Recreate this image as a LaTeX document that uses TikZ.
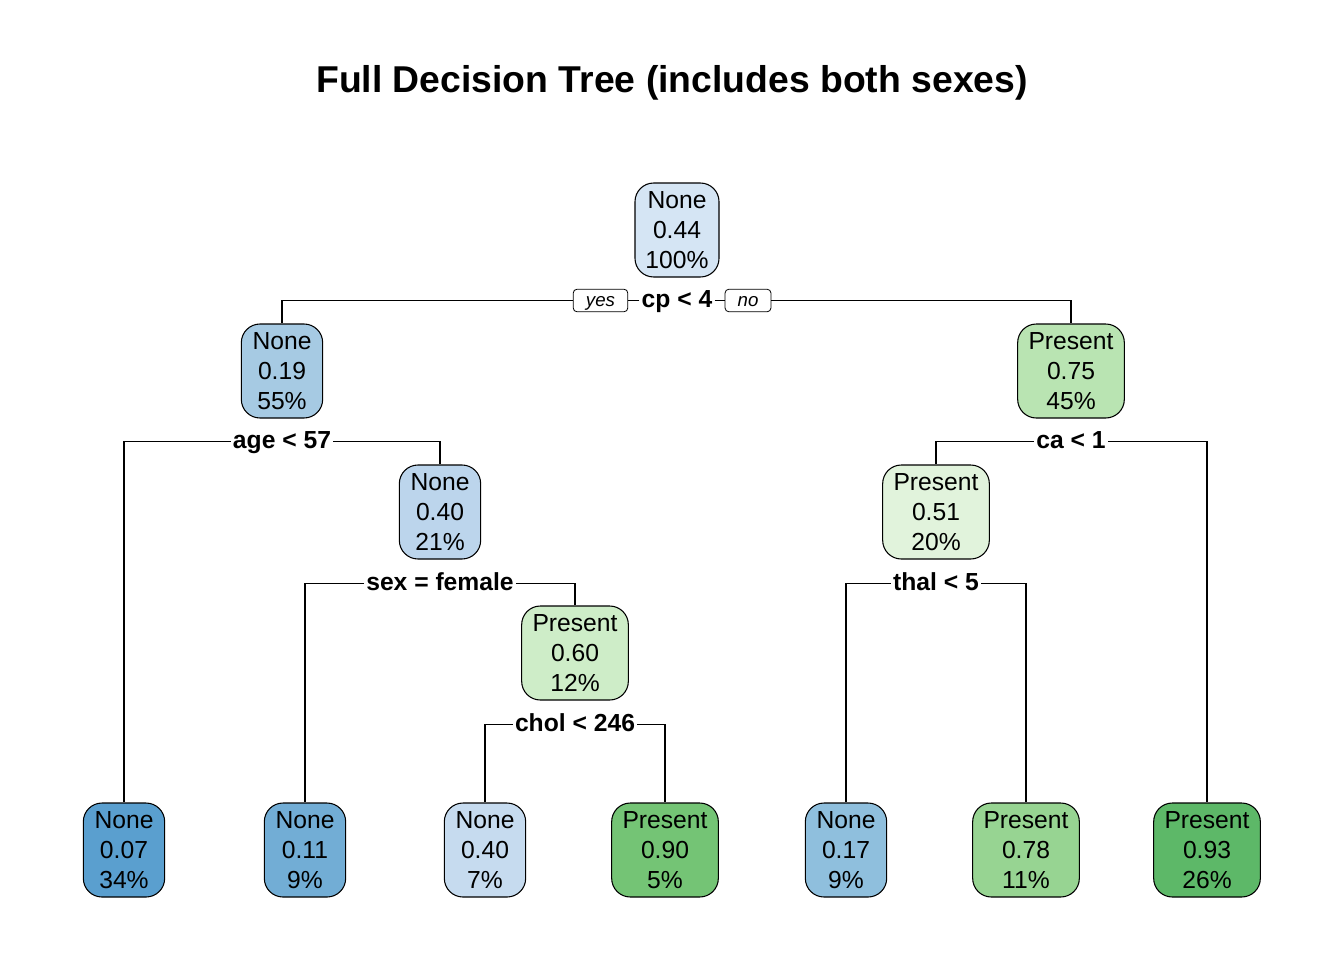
\documentclass[tikz,border=0pt]{standalone}
\usepackage{fontspec}
\setmainfont{Liberation Sans}
\definecolor{cRoot}{HTML}{D5E5F4}
\definecolor{cA}{HTML}{A6CAE3}
\definecolor{cB}{HTML}{BCD5EC}
\definecolor{cC}{HTML}{CEEDC8}
\definecolor{cD}{HTML}{B9E4B2}
\definecolor{cE}{HTML}{E1F3DC}
\definecolor{cL1}{HTML}{5A9FCF}
\definecolor{cL2}{HTML}{72ADD5}
\definecolor{cL3}{HTML}{C6DBEF}
\definecolor{cL4}{HTML}{74C475}
\definecolor{cL5}{HTML}{8FBFDD}
\definecolor{cL6}{HTML}{97D492}
\definecolor{cL7}{HTML}{5DB868}
\tikzset{
  tnode/.style={draw=black, line width=0.8pt, rounded corners=14pt, align=center,
    inner sep=0pt, minimum height=70.5pt,
    execute at begin node={\rule{0pt}{16.3pt}},
    font=\fontsize{18.5}{22.5}\selectfont},
  nbox/.style={tnode, minimum width=61pt},
  rbox/.style={tnode, minimum width=63pt},
  pbox/.style={tnode, minimum width=80pt},
  split/.style={font=\fontsize{18.5}{20}\bfseries\selectfont, inner sep=1.5pt,
    text height=13.3pt, text depth=3.3pt},
  yn/.style={draw=black, line width=0.6pt, rounded corners=3pt, font=\fontsize{14}{16}\itshape\selectfont,
    minimum height=17pt, inner sep=0pt, text height=10pt, text depth=1pt},
  edge/.style={line width=0.8pt}
}
\begin{document}
\begin{tikzpicture}[x=0.75pt, y=-0.75pt]
\useasboundingbox (0,0) rectangle (1344,960);
\fill[white] (0,0) rectangle (1344,960);
\node[font=\fontsize{28}{32}\bfseries\selectfont] (title) at (672,83) {Full Decision Tree (includes both sexes)};

\node[rbox, fill=cRoot] (n1) at (677,230) {None\\0.44\\100\%};
\node[nbox, fill=cA] (n2) at (282,371) {None\\0.19\\55\%};
\node[pbox, fill=cD] (n3) at (1071,371) {Present\\0.75\\45\%};
\node[nbox, fill=cB] (n4) at (440,512) {None\\0.40\\21\%};
\node[pbox, fill=cE] (n5) at (936,512) {Present\\0.51\\20\%};
\node[pbox, fill=cC] (n6) at (575,653) {Present\\0.60\\12\%};

\node[nbox, fill=cL1] (l1) at (124,850) {None\\0.07\\34\%};
\node[nbox, fill=cL2] (l2) at (305,850) {None\\0.11\\9\%};
\node[nbox, fill=cL3] (l3) at (485,850) {None\\0.40\\7\%};
\node[pbox, fill=cL4] (l4) at (665,850) {Present\\0.90\\5\%};
\node[nbox, fill=cL5] (l5) at (846,850) {None\\0.17\\9\%};
\node[pbox, fill=cL6] (l6) at (1026,850) {Present\\0.78\\11\%};
\node[pbox, fill=cL7] (l7) at (1207,850) {Present\\0.93\\26\%};

\node[split] (s1) at (677,300.5) {cp < 4};
\node[yn, minimum width=41pt] (yes) at (600.5,300.5) {yes};
\node[yn, minimum width=34.5pt] (no) at (748,300.5) {no};
\node[split] (s2) at (282,441.5) {age < 57};
\node[split] (s3) at (1071,441.5) {ca < 1};
\node[split] (s4) at (440,583.5) {sex = female};
\node[split] (s5) at (936,583.5) {thal < 5};
\node[split] (s6) at (575,724.5) {chol < 246};

\draw[edge] (s1.west |- yes.east) -- (yes.east);
\draw[edge] (yes.west) -| (n2.north);
\draw[edge] (s1.east |- no.west) -- (no.west);
\draw[edge] (no.east) -| (n3.north);
\draw[edge] (s2.west) -| (l1.north);
\draw[edge] (s2.east) -| (n4.north);
\draw[edge] (s3.west) -| (n5.north);
\draw[edge] (s3.east) -| (l7.north);
\draw[edge] (s4.west) -| (l2.north);
\draw[edge] (s4.east) -| (n6.north);
\draw[edge] (s5.west) -| (l5.north);
\draw[edge] (s5.east) -| (l6.north);
\draw[edge] (s6.west) -| (l3.north);
\draw[edge] (s6.east) -| (l4.north);
\end{tikzpicture}
\end{document}
